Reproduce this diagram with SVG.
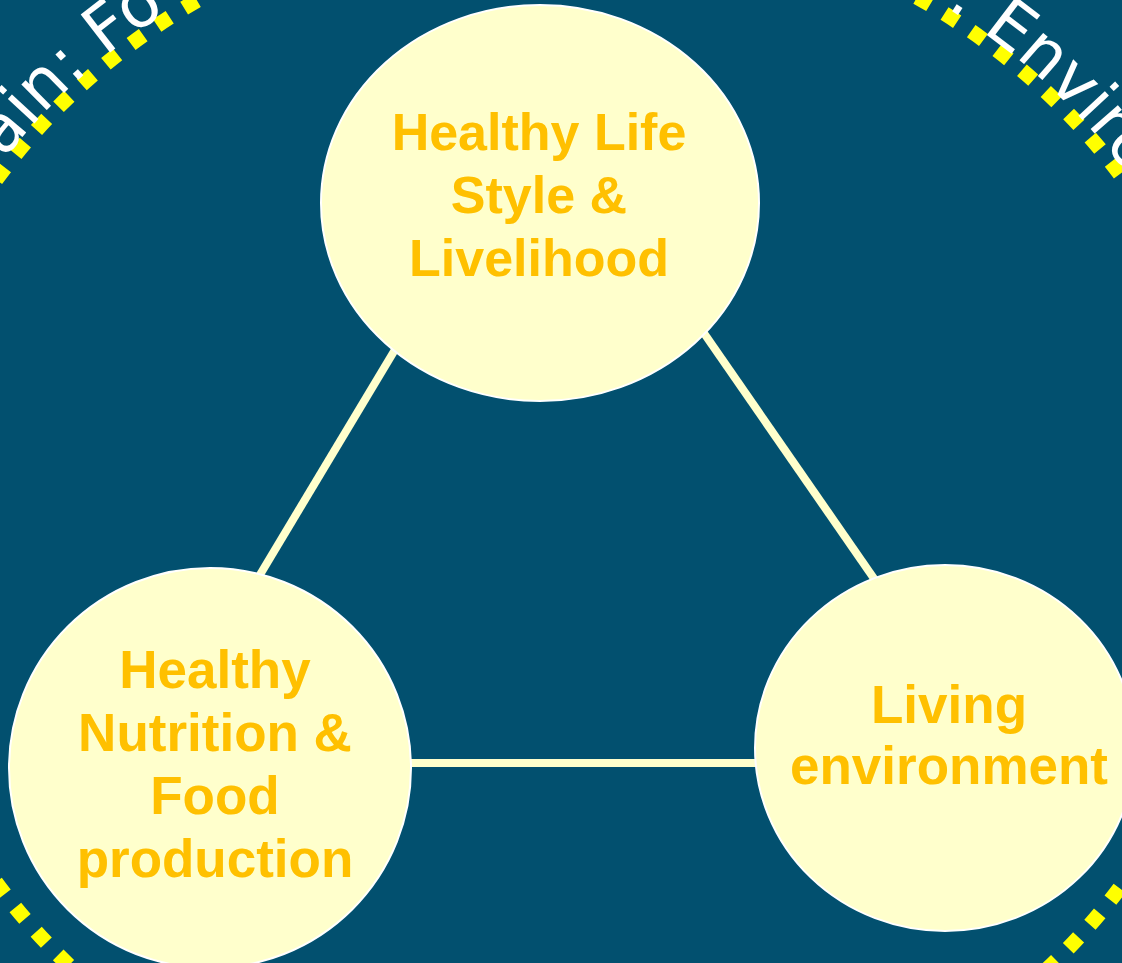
<svg xmlns="http://www.w3.org/2000/svg" xmlns:xlink="http://www.w3.org/1999/xlink" width="1122" height="963" viewBox="0 0 1122 963">
  <defs>
    <path id="ring" d="M -127,531 A 687 633 0 0 1 1247,531 A 687 633 0 0 1 -127,531 Z"/>
    <style>
      .node { fill: #FFFFCC; stroke: #FFFFFF; stroke-width: 2; }
      .label { fill: #FFC000; font-family: "Liberation Sans", Arial, sans-serif; font-weight: bold; font-size: 53px; text-anchor: middle; }
      .top { font-size: 52px; }
      .link { stroke: #FFFFCC; stroke-width: 8; fill: none; }
      .ringtext { fill: #FFFFFF; font-family: "DejaVu Sans", Verdana, sans-serif; font-size: 66px; }
      .dots { fill: none; stroke: #FFFF00; stroke-width: 15; stroke-dasharray: 15 17; }
    </style>
  </defs>
  <rect x="0" y="0" width="1122" height="963" fill="#02506F"/>
  <g id="frame">
    <ellipse class="dots" cx="560" cy="531" rx="681" ry="627"/>
    <text class="ringtext"><textPath xlink:href="#ring" href="#ring" startOffset="402">ain: Fo</textPath></text>
    <text class="ringtext"><textPath xlink:href="#ring" href="#ring" startOffset="1443">: Enviro</textPath></text>
  </g>
  <g id="connectors">
    <line class="link" x1="420" y1="308" x2="240" y2="608"/>
    <line class="link" x1="690" y1="313" x2="893" y2="606"/>
    <line class="link" x1="400" y1="763" x2="770" y2="763"/>
  </g>
  <g id="node-lifestyle">
    <ellipse class="node" cx="540" cy="203" rx="219" ry="198"/>
    <text class="label top" x="539" y="150">Healthy Life</text>
    <text class="label top" x="539" y="213">Style &amp;</text>
    <text class="label top" x="539" y="276">Livelihood</text>
  </g>
  <g id="node-nutrition">
    <ellipse class="node" cx="210" cy="768" rx="201" ry="200"/>
    <text class="label" x="215" y="688">Healthy</text>
    <text class="label" x="215" y="751">Nutrition &amp;</text>
    <text class="label" x="215" y="814">Food</text>
    <text class="label" x="215" y="877">production</text>
  </g>
  <g id="node-environment">
    <ellipse class="node" cx="945" cy="748" rx="190" ry="183"/>
    <text class="label" x="949" y="723">Living</text>
    <text class="label" x="949" y="784">environment</text>
  </g>
</svg>
